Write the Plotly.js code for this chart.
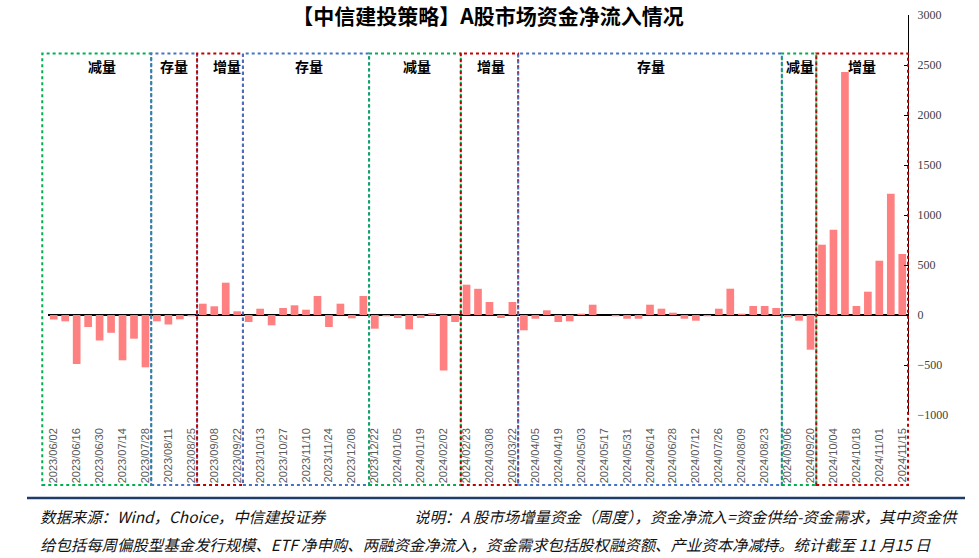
<!DOCTYPE html>
<html>
<head>
<meta charset="utf-8">
<script src="https://cdn.plot.ly/plotly-3.0.1.min.js"></script>
<style>html,body{margin:0;padding:0;background:#fff;}#chart{width:979px;height:558px;}</style>
</head>
<body>
<div id="chart"></div>
<script>
// ---- data ----
var weeks = [
  "2023/06/02","2023/06/09","2023/06/16","2023/06/21","2023/06/30","2023/07/07","2023/07/14","2023/07/21","2023/07/28",
  "2023/08/04","2023/08/11","2023/08/18","2023/08/25","2023/09/01","2023/09/08","2023/09/15","2023/09/22","2023/09/28",
  "2023/10/13","2023/10/20","2023/10/27","2023/11/03","2023/11/10","2023/11/17","2023/11/24","2023/12/01","2023/12/08",
  "2023/12/15","2023/12/22","2023/12/29","2024/01/05","2024/01/12","2024/01/19","2024/01/26","2024/02/02","2024/02/08",
  "2024/02/23","2024/03/01","2024/03/08","2024/03/15","2024/03/22","2024/03/29","2024/04/05","2024/04/12","2024/04/19",
  "2024/04/26","2024/05/03","2024/05/10","2024/05/17","2024/05/24","2024/05/31","2024/06/07","2024/06/14","2024/06/21",
  "2024/06/28","2024/07/05","2024/07/12","2024/07/19","2024/07/26","2024/08/02","2024/08/09","2024/08/16","2024/08/23",
  "2024/08/30","2024/09/06","2024/09/13","2024/09/20","2024/09/27","2024/10/04","2024/10/11","2024/10/18","2024/10/25",
  "2024/11/01","2024/11/08","2024/11/15"
];
var netInflow = [
  -45, -63, -490, -120, -255, -178, -453, -237, -523,
  -63, -95, -43, -13, 113, 87, 323, 37, -70,
  63, -103, 70, 97, 53, 190, -120, 113, -33,
  190, -137, -13, -30, -143, -30, 20, -555, -70,
  303, 262, 130, -30, 130, -153, -37, 47, -70,
  -63, 13, 103, 0, -13, -37, -37, 103, 63,
  23, -37, -57, -13, 63, 263, 13, 90, 90,
  70, -22, -57, -347, 703, 853, 2430, 90, 233,
  543, 1213, 610
];
var tickLabels = weeks.filter(function(d, i){ return i % 2 === 0; });

// regimes: label, first week, last week
var regimeNames = ["减量","存量","增量","存量","减量","增量","存量","减量","增量"];
var regimeStart = ["2023/06/02","2023/08/04","2023/09/01","2023/09/28","2023/12/22","2024/02/23","2024/03/29","2024/09/06","2024/09/27"];
var regimeEnd   = ["2023/07/28","2023/08/25","2023/09/22","2023/12/15","2024/02/08","2024/03/22","2024/08/30","2024/09/20","2024/11/15"];

var titleText = "【中信建投策略】A股市场资金净流入情况";
var sourceText = "数据来源：Wind，Choice，中信建投证券";
var noteLine1 = "说明：A 股市场增量资金（周度），资金净流入=资金供给-资金需求，其中资金供";
var noteLine2 = "给包括每周偏股型基金发行规模、ETF 净申购、两融资金净流入，资金需求包括股权融资额、产业资本净减持。统计截至 11 月15 日";

// ---- layout helpers ----
var W = 979, H = 558;
var M = {l: 48, r: 71, t: 15, b: 143};
var plotW = W - M.l - M.r, plotH = H - M.t - M.b;
var N = weeks.length;
function px2paperX(px){ return (px - M.l) / plotW; }
function py2paperY(py){ return (H - M.b - py) / plotH; }
function idx2paperX(v){ return (v + 0.5) / N; }

var regimeColor = {"减量": "#00B050", "存量": "#4472C4", "增量": "#C00000"};
var shapes = [], annotations = [];
var boxTop = py2paperY(53.5), boxBot = py2paperY(485);
var labelShiftPx = [5, 0, 7, 3, 2, 2, 1, 1, 0];
for (var k = 0; k < regimeNames.length; k++) {
  var s = weeks.indexOf(regimeStart[k]), e = weeks.indexOf(regimeEnd[k]);
  var x0 = idx2paperX(s - 0.5 - (k === 0 ? 0.5 : 0));
  var x1 = idx2paperX(e + 0.5);
  shapes.push({type: "rect", xref: "paper", yref: "paper", x0: x0, x1: x1, y0: boxBot, y1: boxTop,
    line: {color: regimeColor[regimeNames[k]], width: 2, dash: "dot"}, fillcolor: "rgba(0,0,0,0)", layer: "above"});
  annotations.push({xref: "paper", yref: "paper", x: (x0 + x1) / 2 + labelShiftPx[k] / plotW, y: py2paperY(66),
    xanchor: "center", yanchor: "middle", showarrow: false, text: "<b>" + regimeNames[k] + "</b>",
    font: {family: "Noto Sans CJK SC", size: 14, color: "#000"}});
}
// footer rule
shapes.push({type: "line", xref: "paper", yref: "paper", x0: px2paperX(27), x1: px2paperX(965),
  y0: py2paperY(498), y1: py2paperY(498), line: {color: "#1F3D6B", width: 2.5}});

var footFont = {family: "Noto Sans CJK SC", size: 15.4, color: "#111"};
annotations.push({xref: "paper", yref: "paper", x: px2paperX(38), y: py2paperY(516), xanchor: "left", yanchor: "middle",
  showarrow: false, text: "<i>" + sourceText + "</i>", font: footFont});
annotations.push({xref: "paper", yref: "paper", x: px2paperX(412), y: py2paperY(516), xanchor: "left", yanchor: "middle",
  showarrow: false, text: "<i>" + noteLine1 + "</i>", font: footFont});
annotations.push({xref: "paper", yref: "paper", x: px2paperX(38), y: py2paperY(544), xanchor: "left", yanchor: "middle",
  showarrow: false, text: "<i>" + noteLine2 + "</i>", font: footFont});

var trace = {
  type: "bar", x: weeks, y: netInflow,
  marker: {color: "#FF8080", line: {width: 0}},
  hoverinfo: "x+y"
};

var layout = {
  width: W, height: H,
  margin: M,
  paper_bgcolor: "#fff", plot_bgcolor: "#fff",
  showlegend: false,
  bargap: 0.33,
  title: {text: "<b>" + titleText + "</b>", x: 488 / W, xanchor: "center", xref: "container",
    y: 1 - 17 / H, yanchor: "middle", yref: "container",
    font: {family: "Noto Sans CJK SC", size: 21, color: "#000"}},
  xaxis: {
    type: "category", categoryorder: "array", categoryarray: weeks,
    range: [-0.5, N - 0.5],
    tickmode: "array", tickvals: tickLabels, ticktext: tickLabels,
    tickangle: -90, ticks: "", showline: false, showgrid: false, zeroline: false,
    tickfont: {family: "Liberation Sans", size: 11, color: "#595959"},
    ticklabelstandoff: 10
  },
  yaxis: {
    side: "right", range: [-1000, 3000], tick0: 0, dtick: 500,
    showline: true, linecolor: "#000", linewidth: 1,
    ticks: "inside", ticklen: 4, tickcolor: "#000",
    showgrid: false, zeroline: true, zerolinecolor: "#000", zerolinewidth: 1.5,
    tickfont: {family: "Liberation Serif", size: 12, color: "#404040"},
    ticklabelstandoff: 6
  },
  shapes: shapes,
  annotations: annotations
};

Plotly.newPlot("chart", [trace], layout, {staticPlot: true, displayModeBar: false});
</script>
</body>
</html>
